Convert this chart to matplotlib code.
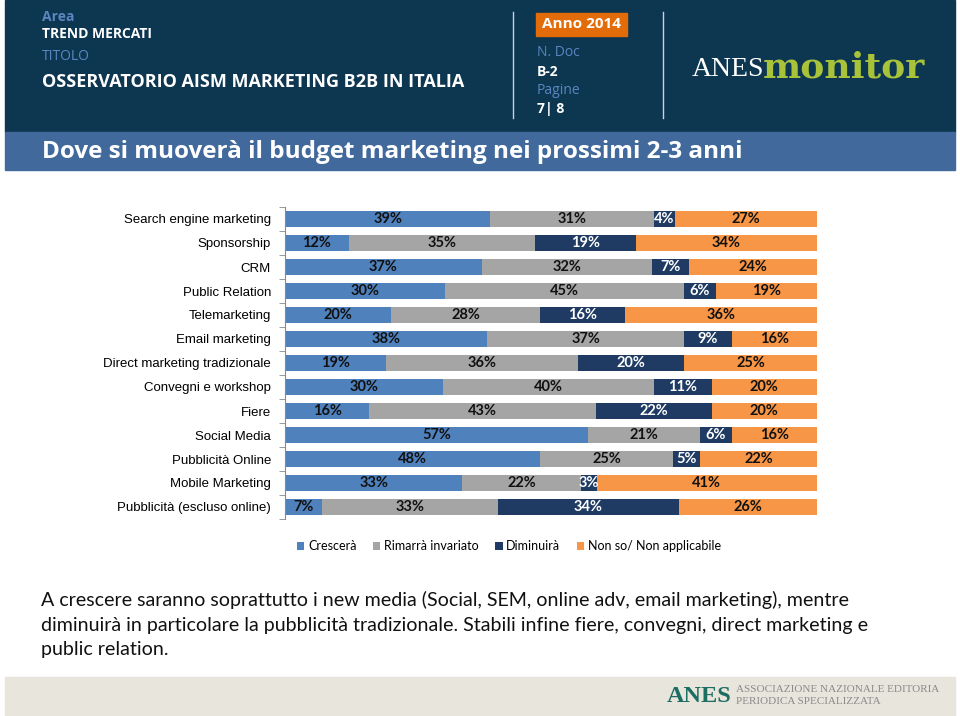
import numpy as np
import matplotlib.pyplot as plt
from matplotlib.patches import Rectangle

categories = [
    "Search engine marketing", "Sponsorship", "CRM", "Public Relation",
    "Telemarketing", "Email marketing", "Direct marketing tradizionale",
    "Convegni e workshop", "Fiere", "Social Media", "Pubblicità Online",
    "Mobile Marketing", "Pubblicità (escluso online)",
]
crescera = [39, 12, 37, 30, 20, 38, 19, 30, 16, 57, 48, 33, 7]
invariato = [31, 35, 32, 45, 28, 37, 36, 40, 43, 21, 25, 22, 33]
diminuira = [4, 19, 7, 6, 16, 9, 20, 11, 22, 6, 5, 3, 34]
non_so = [27, 34, 24, 19, 36, 16, 25, 20, 20, 16, 22, 41, 26]
series_names = ["Crescerà", "Rimarrà invariato", "Diminuirà", "Non so/ Non applicabile"]
colors = ["#4f81bd", "#a5a5a5", "#1f3b63", "#f79646"]
text_colors = ["#111111", "#111111", "white", "#111111"]

W, H = 960, 716
fig = plt.figure(figsize=(W / 100, H / 100), dpi=100)
fig.patch.set_facecolor("white")


def fx(x):
    return x / W


def fy(y):
    return 1 - y / H


def rect(x0, y0, x1, y1, color):
    fig.patches.append(Rectangle((fx(x0), fy(y1)), fx(x1 - x0), (y1 - y0) / H,
                                 transform=fig.transFigure, color=color, zorder=0))


def txt(x, y, s, **kw):
    fig.text(fx(x), fy(y), s, **kw)


# header
rect(5, 0, 955, 132, "#0d3651")
rect(5, 132, 955, 170, "#41699c")
light = "#5b86c0"
txt(42, 17, "Area", color=light, fontsize=10, fontweight="bold", family="Open Sans", va="center")
txt(42, 34, "TREND MERCATI", color="white", fontsize=10, fontweight="bold", family="Open Sans", va="center")
txt(42, 57, "TITOLO", color=light, fontsize=10, family="Open Sans", va="center")
txt(42, 82, "OSSERVATORIO AISM MARKETING B2B IN ITALIA", color="white", fontsize=13,
    fontweight="bold", family="Open Sans", va="center")
for xl in (513, 663):
    fig.add_artist(plt.Line2D([fx(xl), fx(xl)], [fy(12), fy(118)], color="#c9d3dd", lw=1))
rect(536, 13, 627, 36, "#e36c0a")
txt(581, 24, "Anno 2014", color="white", fontsize=11, fontweight="bold", family="Open Sans",
    ha="center", va="center")
txt(537, 52, "N. Doc", color=light, fontsize=10, family="Open Sans", va="center")
txt(537, 72, "B-2", color="white", fontsize=10, fontweight="bold", family="Open Sans", va="center")
txt(537, 90, "Pagine", color=light, fontsize=10, family="Open Sans", va="center")
txt(537, 109, "7| 8", color="white", fontsize=10, fontweight="bold", family="Open Sans", va="center")
txt(692, 70, "ANES", color="white", fontsize=20, family="Liberation Serif", va="center")
txt(763, 67, "monitor", color="#a8c23a", fontsize=26, fontweight="bold", family="DejaVu Serif",
    va="center")
txt(42, 152, "Dove si muoverà il budget marketing nei prossimi 2-3 anni", color="white",
    fontsize=17.5, fontweight="bold", family="Open Sans", va="center")

# chart
ax = fig.add_axes([fx(285), fy(519), fx(817 - 285), (519 - 207) / H])
data = np.array([crescera, invariato, diminuira, non_so], dtype=float)
shares = data / data.sum(axis=0) * 100
y = np.arange(len(categories))
left = np.zeros(len(categories))
for i in range(4):
    ax.barh(y, shares[i], left=left, height=0.67, color=colors[i], label=series_names[i])
    for j in range(len(categories)):
        ax.text(left[j] + shares[i][j] / 2, y[j], f"{int(data[i][j])}%", ha="center",
                va="center", fontsize=10.5, fontweight="bold", color=text_colors[i],
                family="Lato")
    left += shares[i]
ax.set_xlim(0, 100)
ax.set_ylim(len(categories) - 0.5, -0.5)
ax.set_yticks(y)
ax.set_yticklabels(categories, fontsize=9.5, family="Liberation Sans")
ax.set_yticks(np.arange(-0.5, len(categories), 1), minor=True)
ax.tick_params(axis="y", which="major", length=0, pad=10)
ax.tick_params(axis="y", which="minor", length=4, color="#888888")
ax.set_xticks([])
for s in ("top", "right", "bottom"):
    ax.spines[s].set_visible(False)
ax.spines["left"].set_color("#888888")

leg = fig.legend(loc="center", bbox_to_anchor=(fx(509), fy(546)), ncol=4, frameon=False,
                 handlelength=0.6, handleheight=0.6, handletextpad=0.3,
                 columnspacing=1.3, prop={"family": "Lato", "size": 9})

# comment text
para = ["A crescere saranno soprattutto i new media (Social, SEM, online adv, email marketing), mentre",
        "diminuirà in particolare la pubblicità tradizionale. Stabili infine fiere, convegni, direct marketing e",
        "public relation."]
for k, line in enumerate(para):
    txt(41, 600 + 25 * k, line, fontsize=14.1, family="Lato", va="center", color="#111111")

# footer
rect(5, 677, 955, 716, "#e8e5dc")
txt(667, 696, "ANES", color="#1d6e62", fontsize=17.5, fontweight="bold", family="Liberation Serif",
    va="center")
txt(736, 689, "ASSOCIAZIONE NAZIONALE EDITORIA", color="#8a8a8a", fontsize=8,
    family="Liberation Serif", va="center")
txt(736, 702, "PERIODICA SPECIALIZZATA", color="#8a8a8a", fontsize=8,
    family="Liberation Serif", va="center")

fig.savefig("out.png", dpi=100)
